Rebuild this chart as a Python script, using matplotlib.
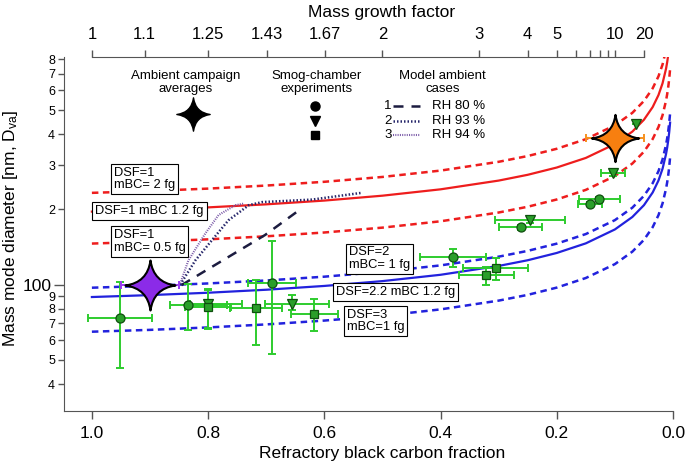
import matplotlib
matplotlib.use('Agg')
import matplotlib.pyplot as plt
from matplotlib.path import Path

plt.rcParams['font.family'] = ['Liberation Sans', 'DejaVu Sans']
plt.rcParams['mathtext.default'] = 'regular'

# ---- model curves: rBC fraction vs mass mode diameter (nm)
rbc_frac = [1.0, 0.9, 0.8, 0.7, 0.6, 0.5, 0.4, 0.3, 0.25, 0.2, 0.15, 0.1, 0.07,
            0.05, 0.035, 0.025, 0.018, 0.012, 0.01, 0.008, 0.0065, 0.005]
red_dsf1_m12 = [196, 199.4, 203.8, 209.6, 217.0, 227.0, 240.7, 260.9, 275.2, 294.3, 321.5,
                365.3, 409.7, 457.1, 513.7, 573.8, 639.5, 731.5, 777.1, 836.8, 896.5, 978]
red_dsf1_m2 = [233, 237.1, 242.3, 249.2, 258.0, 269.8, 286.1, 310.2, 327.2, 349.8, 382.2,
               434.3, 487.0, 543.4, 610.6, 682.1, 760.2, 869.5, 923.8, 994.8, 1066, 1163]
red_dsf1_m05 = [146, 148.6, 151.8, 156.1, 161.7, 169.1, 179.3, 194.4, 205.0, 219.2, 239.5,
                272.1, 305.2, 340.5, 382.6, 427.4, 476.4, 544.9, 578.9, 623.3, 667.8, 728.7]
blue_dsf22_m12 = [89.2, 90.8, 92.8, 95.4, 98.8, 103.3, 109.5, 118.8, 125.2, 133.9, 146.3,
                  166.3, 186.5, 208.0, 233.8, 261.1, 291.0, 332.9, 353.7, 380.8, 408.0, 445.2]
blue_dsf2_m1 = [97.2, 98.9, 101.1, 103.9, 107.6, 112.6, 119.4, 129.4, 136.5, 145.9, 159.4,
                181.2, 203.2, 226.7, 254.7, 284.5, 317.1, 362.7, 385.4, 415.0, 444.6, 485.1]
blue_dsf3_m1 = [64.8, 65.9, 67.4, 69.3, 71.8, 75.0, 79.6, 86.3, 91.0, 97.3, 106.3,
                120.8, 135.5, 151.1, 169.8, 189.7, 211.4, 241.8, 256.9, 276.7, 296.4, 323.4]

# ---- model ambient cases
case1_x = [0.846, 0.702, 0.639]
case1_y = [99.5, 158, 202]
case2_x = [0.848, 0.822, 0.793, 0.765, 0.730, 0.707, 0.621, 0.536]
case2_y = [100, 125, 151, 181, 208, 214, 219, 233]
case3_x = [0.848, 0.834, 0.805, 0.782, 0.753, 0.739]
case3_y = [101, 125, 160, 190, 208, 211]

# ---- smog chamber experiments
circ_x = [0.952, 0.835, 0.690, 0.379, 0.262, 0.127, 0.143]
circ_y = [73.7, 82.8, 101.1, 128.5, 170, 220, 211]
circ_xlo = [0.055, 0.067, 0.041, 0.057, 0.037, 0.035, 0.020]
circ_xhi = [0.055, 0.030, 0.041, 0.057, 0.037, 0.035, 0.020]
circ_ylo = [27.2, 17.0, 48.4, 10.7, 4, 4, 3]
circ_yhi = [28.3, 18.2, 48.6, 11.0, 4, 4, 3]

tri_x = [0.800, 0.656, 0.246, 0.103, 0.064]
tri_y = [83.5, 83.6, 181, 278.6, 439]
tri_xlo = [0.059, 0.064, 0.060, 0.021, 0.0]
tri_xhi = [0.031, 0.046, 0.060, 0.021, 0.0]
tri_ylo = [17.1, 4.6, 5, 6, 0]
tri_yhi = [12.2, 7.2, 5, 6, 0]

sq_x = [0.800, 0.718, 0.617, 0.321, 0.305]
sq_y = [81.0, 80.8, 76.0, 109.1, 116.1]
sq_xerr = [0.040, 0.045, 0.041, 0.047, 0.056]
sq_ylo = [14, 23.5, 10.8, 9.6, 11.9]
sq_yhi = [14, 23.4, 11.3, 8.7, 11.2]

# ---- ambient campaign averages
amb_x = [0.900, 0.100]
amb_y = [99.5, 388]
amb_xerr = [0.05, 0.05]

gf_ticks = [1, 1.1, 1.25, 1.43, 1.67, 2, 3, 4, 5, 6, 7, 8, 9, 10, 20]
gf_labels = ['1', '1.1', '1.25', '1.43', '1.67', '2', '3', '4', '5', '', '', '', '', '10', '20']

# four pointed star marker
c = 0.12
star = Path([(0, 1), (c, c), (1, 0), (c, -c), (0, -1), (-c, -c), (-1, 0), (-c, c), (0, 1), (0, 1)],
            [Path.MOVETO] + [Path.CURVE3] * 8 + [Path.CLOSEPOLY])

RED = '#ee1d1d'
BLUE = '#2222dd'
GREEN_E = '#2ecc2e'
GREEN_F = '#2a9e2a'

fig = plt.figure(figsize=(6.85, 4.63), dpi=100)
ax = fig.add_axes([64/685, 52/463, 609/685, 354/463])

dash = (0, (2.6, 1.8))
ax.plot(rbc_frac, red_dsf1_m12, color=RED, lw=1.6, zorder=2)
ax.plot(rbc_frac, red_dsf1_m2, color=RED, lw=1.8, ls=dash, zorder=2)
ax.plot(rbc_frac, red_dsf1_m05, color=RED, lw=1.8, ls=dash, zorder=2)
ax.plot(rbc_frac, blue_dsf22_m12, color=BLUE, lw=1.6, zorder=2)
ax.plot(rbc_frac, blue_dsf2_m1, color=BLUE, lw=1.8, ls=dash, zorder=2)
ax.plot(rbc_frac, blue_dsf3_m1, color=BLUE, lw=1.8, ls=dash, zorder=2)

ax.plot(case1_x, case1_y, color='#1c1c40', lw=1.8, ls=(0, (4, 3.2)), zorder=3)
ax.plot(case2_x, case2_y, color='#26266a', lw=1.8, ls=(0, (0.6, 0.8)), zorder=3)
ax.plot(case3_x, case3_y, color='#7a5aa8', lw=1.5, ls=(0, (0.5, 0.6)), zorder=3)

eb = dict(fmt='none', ecolor=GREEN_E, elinewidth=1.4, capsize=3, capthick=1.4, zorder=3)
ax.errorbar(circ_x, circ_y, xerr=[circ_xlo, circ_xhi], yerr=[circ_ylo, circ_yhi], **eb)
ax.errorbar(tri_x, tri_y, xerr=[tri_xlo, tri_xhi], yerr=[tri_ylo, tri_yhi], **eb)
ax.errorbar(sq_x, sq_y, xerr=sq_xerr, yerr=[sq_ylo, sq_yhi], **eb)
mk = dict(ls='none', mfc=GREEN_F, mec='#0f4f0f', mew=0.9, zorder=4)
ax.plot(circ_x, circ_y, marker='o', ms=6.5, **mk)
ax.plot(tri_x, tri_y, marker='v', ms=7.5, **mk)
ax.plot(sq_x, sq_y, marker='s', ms=6, **mk)

# ambient stars
ax.errorbar(amb_x[0], amb_y[0], xerr=amb_xerr[0], fmt='none', ecolor='#9a3cf0',
            elinewidth=1.4, capsize=3, capthick=1.4, zorder=5)
ax.errorbar(amb_x[1], amb_y[1], xerr=amb_xerr[1], fmt='none', ecolor='#f7901e',
            elinewidth=1.4, capsize=3, capthick=1.4, zorder=5)
ax.plot(amb_x[0], amb_y[0], marker=star, ms=36, mfc='#8b2be8', mec='black', mew=1.5, zorder=6)
ax.plot(amb_x[1], amb_y[1], marker=star, ms=34, mfc='#f77f10', mec='black', mew=1.5, zorder=6)

# axes
ax.set_xlim(1.048, 0.0)
ax.set_yscale('log')
ax.set_ylim(31.2, 815)
ax.set_xticks([1.0, 0.8, 0.6, 0.4, 0.2, 0.0])
ax.set_xticklabels(['1.0', '0.8', '0.6', '0.4', '0.2', '0.0'], fontsize=12.5)
ax.set_yticks([100])
ax.set_yticklabels(['100'], fontsize=12.5)
ymin = [40, 50, 60, 70, 80, 90, 200, 300, 400, 500, 600, 700, 800]
ax.set_yticks(ymin, minor=True)
ax.set_yticklabels([str(v)[0] for v in ymin], minor=True, fontsize=9)
ax.tick_params(axis='x', which='major', length=6, width=1, pad=5, color='#555555')
ax.tick_params(axis='y', which='major', length=7, width=1, pad=2, color='#555555')
ax.tick_params(axis='y', which='minor', length=4.5, width=1, pad=2, color='#555555')
for s in ['top', 'right']:
    ax.spines[s].set_visible(False)
for s in ['left', 'bottom']:
    ax.spines[s].set_color('#555555')
ax.set_xlabel('Refractory black carbon fraction', fontsize=12.5)
ax.xaxis.set_label_coords(0.522, -0.098)
ax.set_ylabel('Mass mode diameter [nm, D$_{va}$]', fontsize=12.5, va='center')
ax.yaxis.set_label_coords(-0.088, 0.517)

ax2 = ax.twiny()
ax2.set_xlim(ax.get_xlim())
ax2.set_xticks([1 / g for g in gf_ticks])
ax2.set_xticklabels(gf_labels, fontsize=12)
ax2.tick_params(axis='x', length=5, width=1, pad=6, color='#555555')
for s in ['left', 'right', 'bottom']:
    ax2.spines[s].set_visible(False)
ax2.spines['top'].set_bounds(0.05, 1.0)
ax2.spines['top'].set_color('#555555')
ax2.set_xlabel('Mass growth factor', fontsize=12.5)
ax2.xaxis.set_label_coords(0.521, 1.113)

# legend block
tr = ax.transAxes
for x, txt in [(0.2003, 'Ambient campaign\naverages'), (0.415, 'Smog-chamber\nexperiments'),
               (0.622, 'Model ambient\ncases')]:
    ax.text(x, 0.928, txt, transform=tr, ha='center', va='center', fontsize=9.5, linespacing=1.1)
ax.plot(0.2113, 0.838, marker=star, ms=24, mfc='black', mec='black', transform=tr, clip_on=False)
rows = [0.8616, 0.8201, 0.7797]
for m, r in zip(['o', 'v', 's'], rows):
    ax.plot(0.412, r, marker=m, ms=6.5 if m != 's' else 6, color='black', ls='none', transform=tr)
styles = [dict(color='#1c1c40', lw=1.8, ls=(0, (4, 3.2))),
          dict(color='#26266a', lw=1.8, ls=(0, (0.6, 0.8))),
          dict(color='#7a5aa8', lw=1.5, ls=(0, (0.5, 0.6)))]
for i, (r, st, rh) in enumerate(zip(rows, styles, ['RH 80 %', 'RH 93 %', 'RH 94 %'])):
    ax.text(0.532, r, str(i + 1), transform=tr, ha='center', va='center', fontsize=9.5)
    ax.plot([0.540, 0.585], [r, r], transform=tr, **st)
    ax.text(0.604, r, rh, transform=tr, ha='left', va='center', fontsize=9.5)

# curve labels
bx = dict(boxstyle='square,pad=0.22', fc='white', ec='black', lw=0.8)
for x, y, txt in [(0.0815, 0.6554, 'DSF=1\nmBC= 2 fg'), (0.0514, 0.5644, 'DSF=1 mBC 1.2 fg'),
                  (0.0815, 0.4788, 'DSF=1\nmBC= 0.5 fg'), (0.4673, 0.4297, 'DSF=2\nmBC= 1 fg'),
                  (0.446, 0.337, 'DSF=2.2 mBC 1.2 fg'), (0.464, 0.2542, 'DSF=3\nmBC=1 fg')]:
    ax.text(x, y, txt, transform=tr, ha='left', va='center', fontsize=9.3,
            linespacing=1.1, bbox=bx, zorder=7)

fig.savefig('out.png', dpi=100)
